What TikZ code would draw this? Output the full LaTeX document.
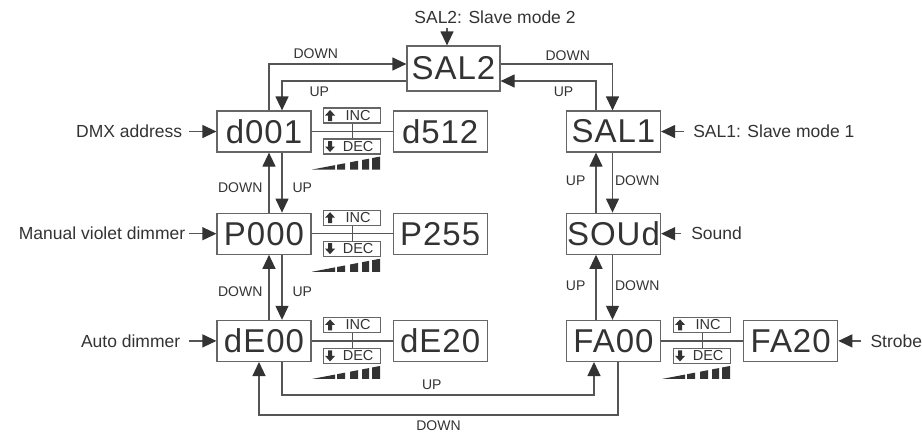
\documentclass[tikz,border=0pt]{standalone}
\usepackage{fontspec}
\setmainfont{Liberation Sans}
\newfontfamily\dispfam[LetterSpace=3]{Liberation Sans}
\usetikzlibrary{positioning,arrows.meta,calc}
\definecolor{boxGray}{HTML}{666666}
\definecolor{lineGray}{HTML}{555555}
\definecolor{tipDark}{HTML}{333333}
\definecolor{txtDark}{HTML}{333333}
\tikzset{
  disp/.style={draw=boxGray, line width=1.2pt, minimum width=94pt, minimum height=41pt,
               inner sep=0pt, text=txtDark, font=\dispfam\fontsize{33}{36}\selectfont},
  keybox/.style={draw=boxGray, line width=1.1pt, minimum width=57pt, minimum height=15pt,
                 inner sep=0pt, text=txtDark, font=\fontsize{14.5}{15}\selectfont},
  side/.style={text=txtDark, inner sep=2pt, font=\fontsize{17.5}{20}\selectfont},
  lbl/.style={text=txtDark, inner sep=0pt, font=\fontsize{14}{16}\selectfont},
  link/.style={draw=lineGray, line width=1.2pt},
  arr/.style={link, -{Triangle[length=14pt, width=13pt, color=tipDark]}},
  uparr/.pic={\fill[tipDark] (0,-5.5) -- (5,0) -- (2,0) -- (2,5.5) -- (-2,5.5) -- (-2,0) -- (-5,0) -- cycle;},
  dnarr/.pic={\fill[tipDark] (0,5.5) -- (5,0) -- (2,0) -- (2,-5.5) -- (-2,-5.5) -- (-2,0) -- (-5,0) -- cycle;},
  ramp/.pic={\foreach \a/\b in {0/23,25/33,38/46,50/57,60/68}
               \fill[tipDark] (\a,0) -- (\b,0) -- (\b,{-13*\b/68}) -- (\a,{-13*\a/68}) -- cycle;},
}
\begin{document}
\begin{tikzpicture}[x=1pt, y=-1pt]
    \useasboundingbox (0,0) rectangle (922,432);

    % left column
    \node[disp] (d001) at (264,131.5) {d001};
    \node[disp, right=81pt of d001] (d512) {d512};
    \node[disp, below=60pt of d001] (P000) {P000};
    \node[disp, right=81pt of P000] (P255) {P255};
    \node[disp, below=65pt of P000] (dE00) {dE00};
    \node[disp, right=81pt of dE00] (dE20) {dE20};

    % right column
    \node[disp, minimum width=93pt, minimum height=45pt] (SAL2) at (453.5,68.5) {SAL2};
    \node[disp] (SAL1) at (613.5,131.5) {SAL1};
    \node[disp, below=60pt of SAL1] (SOUd) {SOUd};
    \node[disp, below=65pt of SOUd] (FA00) {FA00};
    \node[disp, right=82pt of FA00] (FA20) {FA20};

    % INC / DEC keys between value boxes
    \foreach \a/\b/\n in {d001/d512/1, P000/P255/2, dE00/dE20/3, FA00/FA20/4} {
      \draw[link] (\a.east) -- (\b.west);
      \node[keybox] (inc\n) at ($(\a.east)!0.5!(\b.west)+(0,-16)$) {\hspace*{12pt}INC};
      \node[keybox] (dec\n) at ($(\a.east)!0.5!(\b.west)+(0,15)$) {\hspace*{12pt}DEC};
      \draw[link] (inc\n) -- (dec\n);
      \pic at ([shift={(7,0)}]inc\n.west) {uparr};
      \pic at ([shift={(7,0)}]dec\n.west) {dnarr};
      \pic at ([shift={(-11,15)}]dec\n.south west) {ramp};
    }

    % side labels
    \node[side, left=32pt of d001] (ldmx) {DMX address};
    \node[side, left=29pt of P000] (lman) {Manual violet dimmer};
    \node[side, left=34pt of dE00] (lauto) {Auto dimmer};
    \node[side, right=30pt of SAL1] (lsal1) {SAL1: Slave mode 1};
    \node[side, right=28pt of SOUd] (lsnd) {Sound};
    \node[side, right=30pt of FA20] (lstr) {Strobe};
    \node[side] (lsal2) at (495,17) {SAL2: Slave mode 2};

    \draw[arr, shorten <=5pt] (ldmx) -- (d001);
    \draw[arr, shorten <=2pt] (lman) -- (P000);
    \draw[arr, shorten <=7pt] (lauto) -- (dE00);
    \draw[arr, shorten <=7pt] (lsal1) -- (SAL1);
    \draw[arr, shorten <=8pt] (lsnd) -- (SOUd);
    \draw[arr, shorten <=7pt] (lstr) -- (FA20);
    \draw[arr, shorten <=2pt] ([xshift=-6.5pt]SAL2.north |- lsal2.south) -- ([xshift=-6.5pt]SAL2.north);

    % up / down steps
    \draw[arr] ([xshift=5pt]P000.north) -- node[lbl, left=6pt, yshift=-5pt] {DOWN} ([xshift=5pt]d001.south);
    \draw[arr] ([xshift=18pt]d001.south) -- node[lbl, right=10pt, yshift=-5pt] {UP} ([xshift=18pt]P000.north);
    \draw[arr] ([xshift=5pt]dE00.north) -- node[lbl, left=6pt, yshift=-4.5pt] {DOWN} ([xshift=5pt]P000.south);
    \draw[arr] ([xshift=18pt]P000.south) -- node[lbl, right=10pt, yshift=-4.5pt] {UP} ([xshift=18pt]dE00.north);

    \draw[arr] ([xshift=-17.5pt]SOUd.north) -- node[lbl, left=10pt, yshift=2pt] {UP} ([xshift=-17.5pt]SAL1.south);
    \draw[arr] ([xshift=-1pt]SAL1.south) -- node[lbl, right=2pt, yshift=2pt] {DOWN} ([xshift=-1pt]SOUd.north);
    \draw[arr] ([xshift=-17.5pt]FA00.north) -- node[lbl, left=10pt, yshift=2pt] {UP} ([xshift=-17.5pt]SOUd.south);
    \draw[arr] ([xshift=-1pt]SOUd.south) -- node[lbl, right=2pt, yshift=2pt] {DOWN} ([xshift=-1pt]FA00.north);

    % loops through SAL2
    \draw[arr] ([xshift=5pt]d001.north) |- node[lbl, above=5pt, pos=0.67] {DOWN} ([yshift=4.5pt]SAL2.west);
    \draw[arr] ([yshift=-12.5pt]SAL2.west) -| node[lbl, below=5pt, pos=0.35] {UP} ([xshift=18pt]d001.north);
    \draw[arr] ([yshift=4.5pt]SAL2.east) -| node[lbl, above=3pt, pos=0.3] {DOWN} ([xshift=-1pt]SAL1.north);
    \draw[arr] ([xshift=-17.5pt]SAL1.north) |- node[lbl, below=5pt, pos=0.67] {UP} ([yshift=-12.5pt]SAL2.east);

    % loops along the bottom
    \draw[arr] ([xshift=18pt]dE00.south) -- ++(0,33) -| node[lbl, above=5pt, pos=0.24] {UP} ([xshift=-19.5pt]FA00.south);
    \draw[arr] ([xshift=4.5pt]FA00.south) -- ++(0,53) -| node[lbl, below=5pt, pos=0.25] {DOWN} ([xshift=-5pt]dE00.south);
\end{tikzpicture}
\end{document}
